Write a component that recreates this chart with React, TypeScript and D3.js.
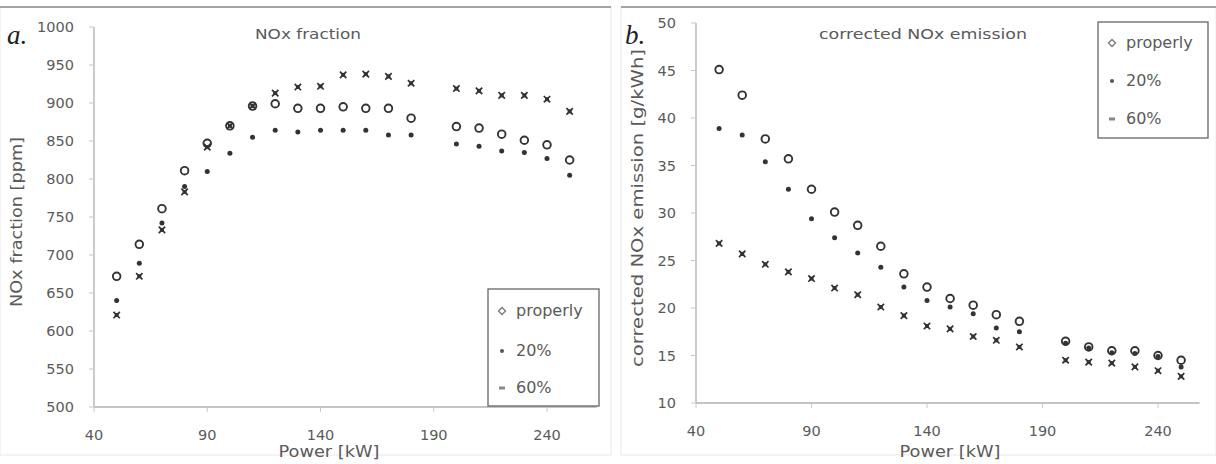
import React from "react";
import * as d3 from "d3";

// power levels (kW) shared by both panels
const power = [50, 60, 70, 80, 90, 100, 110, 120, 130, 140, 150, 160, 170, 180, 200, 210, 220, 230, 240, 250];

// panel a: NOx fraction [ppm]
const noxProperly = [672, 714, 761, 811, 847, 870, 896, 899, 893, 893, 895, 893, 893, 880, 869, 867, 859, 851, 845, 825];
const nox20 = [640, 689, 742, 790, 810, 834, 855, 864, 862, 864, 864, 864, 858, 858, 846, 843, 837, 835, 827, 805];
const nox60 = [621, 672, 733, 783, 842, 870, 896, 913, 921, 922, 937, 938, 935, 926, 919, 916, 910, 910, 905, 889];

// panel b: corrected NOx emission [g/kWh]
const emProperly = [45.1, 42.4, 37.8, 35.7, 32.5, 30.1, 28.7, 26.5, 23.6, 22.2, 21.0, 20.3, 19.3, 18.6, 16.5, 15.9, 15.5, 15.5, 15.0, 14.5];
const em20 = [38.9, 38.2, 35.4, 32.5, 29.4, 27.4, 25.8, 24.3, 22.2, 20.8, 20.1, 19.4, 17.9, 17.5, 16.3, 15.8, 15.3, 15.2, 14.9, 13.8];
const em60 = [26.8, 25.7, 24.6, 23.8, 23.1, 22.1, 21.4, 20.1, 19.2, 18.1, 17.8, 17.0, 16.6, 15.9, 14.5, 14.3, 14.2, 13.8, 13.4, 12.8];

const xTicks = [40, 90, 140, 190, 240];
const yTicksA = [500, 550, 600, 650, 700, 750, 800, 850, 900, 950, 1000];
const yTicksB = [10, 15, 20, 25, 30, 35, 40, 45, 50];
const legendNames = ["properly", "20%", "60%"];

const font = "'DejaVu Sans', sans-serif";
const ink = "#333";
const grey = "#5a5a5a";

function Marker({ kind, x, y }: { kind: number; x: number; y: number }) {
  if (kind === 0)
    return <circle cx={x} cy={y} r={3.8} fill="none" stroke={ink} strokeWidth={1.9} />;
  if (kind === 1)
    return <circle cx={x} cy={y} r={2.5} fill={ink} />;
  return (
    <g stroke={ink} strokeWidth={1.7}>
      <path d={`M${x - 3.2},${y - 3.2}L${x + 3.2},${y + 3.2}M${x - 3.2},${y + 3.2}L${x + 3.2},${y - 3.2}`} />
      <rect x={x - 2} y={y - 2} width={4} height={4} fill={ink} stroke="none" />
    </g>
  );
}

function LegendMarker({ kind, x, y }: { kind: number; x: number; y: number }) {
  if (kind === 0)
    return <path d={`M${x},${y - 3.5}L${x + 3.5},${y}L${x},${y + 3.5}L${x - 3.5},${y}Z`} fill="none" stroke="#777" strokeWidth={1.3} />;
  if (kind === 1) return <circle cx={x} cy={y} r={2} fill="#555" />;
  return <rect x={x - 3} y={y - 1.5} width={6} height={3} fill="#888" />;
}

type PanelProps = {
  series: number[][];
  xRange: [number, number];
  xMax: number;
  yDomain: [number, number];
  yRange: [number, number];
  yTicks: number[];
  title: string;
  titleX: number;
  titleW: number;
  yLabel: string;
  yLabelX: number;
  yLabelY: number;
  yLabelW: number;
  xLabelX: number;
  letter: string;
  letterX: number;
  legend: { x: number; y: number; w: number; h: number; rows: number[] };
  panel: [number, number];
};

function Panel(p: PanelProps) {
  // pixel range given for 40..240, extended out to xMax
  const k = (p.xRange[1] - p.xRange[0]) / 200;
  const x = d3.scaleLinear().domain([40, p.xMax]).range([p.xRange[0], p.xRange[0] + (p.xMax - 40) * k]);
  const y = d3.scaleLinear().domain(p.yDomain).range(p.yRange);
  const [x0, x1] = x.range();
  const yb = y(p.yDomain[0]);
  const yt = y(p.yDomain[1]);
  return (
    <g>
      <rect x={p.panel[0]} y={7} width={p.panel[1] - p.panel[0]} height={448} fill="#fff" stroke="#e8e8e8" />
      <line x1={p.panel[0]} x2={p.panel[1]} y1={7} y2={7} stroke="#8a8a8a" strokeWidth={1.5} />
      {/* axes */}
      <line x1={x0} x2={x0} y1={yt} y2={yb} stroke="#b0b0b0" strokeWidth={1.3} />
      <line x1={x0} x2={x1} y1={yb} y2={yb} stroke="#b0b0b0" strokeWidth={1.3} />
      {p.yTicks.map((t) => (
        <g key={"y" + t}>
          <line x1={x0 - 5} x2={x0} y1={y(t)} y2={y(t)} stroke="#c8c8c8" />
          <text x={x0 - 20} y={y(t)} dy="0.36em" textAnchor="end" fontSize={14.5} fill={grey} fontFamily={font}>
            {t}
          </text>
        </g>
      ))}
      {xTicks.map((t) => (
        <g key={"x" + t}>
          <line x1={x(t)} x2={x(t)} y1={yb} y2={yb + 5} stroke="#c8c8c8" />
          <text x={x(t)} y={yb + 33} textAnchor="middle" fontSize={14.5} fill={grey} fontFamily={font}>
            {t}
          </text>
        </g>
      ))}
      <text x={p.xLabelX} y={457} textAnchor="middle" fontSize={16} fill={grey} fontFamily={font}
        textLength={101} lengthAdjust="spacingAndGlyphs">
        Power [kW]
      </text>
      <text
        transform={`translate(${p.yLabelX},${p.yLabelY}) rotate(-90)`}
        textAnchor="middle"
        dy="0.35em"
        fontSize={16}
        fill={grey}
        fontFamily={font}
        textLength={p.yLabelW}
        lengthAdjust="spacingAndGlyphs"
      >
        {p.yLabel}
      </text>
      <text x={p.titleX} y={39} textAnchor="middle" fontSize={14.5} fill={grey} fontFamily={font}
        textLength={p.titleW} lengthAdjust="spacingAndGlyphs">
        {p.title}
      </text>
      <text x={p.letterX} y={44} fontSize={27} fontStyle="italic" fill="#222" fontFamily="'Liberation Serif', serif">
        {p.letter}
      </text>
      {/* points */}
      {p.series.map((s, si) =>
        s.map((v, i) => <Marker key={si + "-" + i} kind={si} x={x(power[i])} y={y(v)} />)
      )}
      {/* legend */}
      <rect x={p.legend.x} y={p.legend.y} width={p.legend.w} height={p.legend.h} fill="#fff" stroke="#666" strokeWidth={1.3} />
      {legendNames.map((n, i) => (
        <g key={n}>
          <LegendMarker kind={i} x={p.legend.x + 14} y={p.legend.rows[i] - 5} />
          <text x={p.legend.x + 28} y={p.legend.rows[i]} fontSize={16} fill={grey} fontFamily={font}>
            {n}
          </text>
        </g>
      ))}
    </g>
  );
}

export default function App() {
  return (
    <div style={{ position: "absolute", left: 0, top: 0 }}>
      <svg width={1216} height={464} style={{ display: "block", background: "#fff" }}>
        <Panel
          series={[noxProperly, nox20, nox60]}
          xRange={[94, 547]}
          xMax={262}
          yDomain={[500, 1000]}
          yRange={[407, 27]}
          yTicks={yTicksA}
          title="NOx fraction"
          titleX={308}
          titleW={106}
          yLabel="NOx fraction [ppm]"
          yLabelX={16}
          yLabelY={222}
          yLabelW={170}
          xLabelX={329}
          letter="a."
          letterX={7}
          legend={{ x: 488, y: 289, w: 111, h: 117, rows: [316, 356, 393] }}
          panel={[0, 611]}
        />
        <Panel
          series={[emProperly, em20, em60]}
          xRange={[696, 1158]}
          xMax={258}
          yDomain={[10, 50]}
          yRange={[403, 23]}
          yTicks={yTicksB}
          title="corrected NOx emission"
          titleX={923}
          titleW={208}
          yLabel="corrected NOx emission [g/kWh]"
          yLabelX={637}
          yLabelY={208}
          yLabelW={318}
          xLabelX={950}
          letter="b."
          letterX={625}
          legend={{ x: 1098, y: 22, w: 110, h: 116, rows: [48, 86, 124] }}
          panel={[621, 1216]}
        />
      </svg>
    </div>
  );
}
